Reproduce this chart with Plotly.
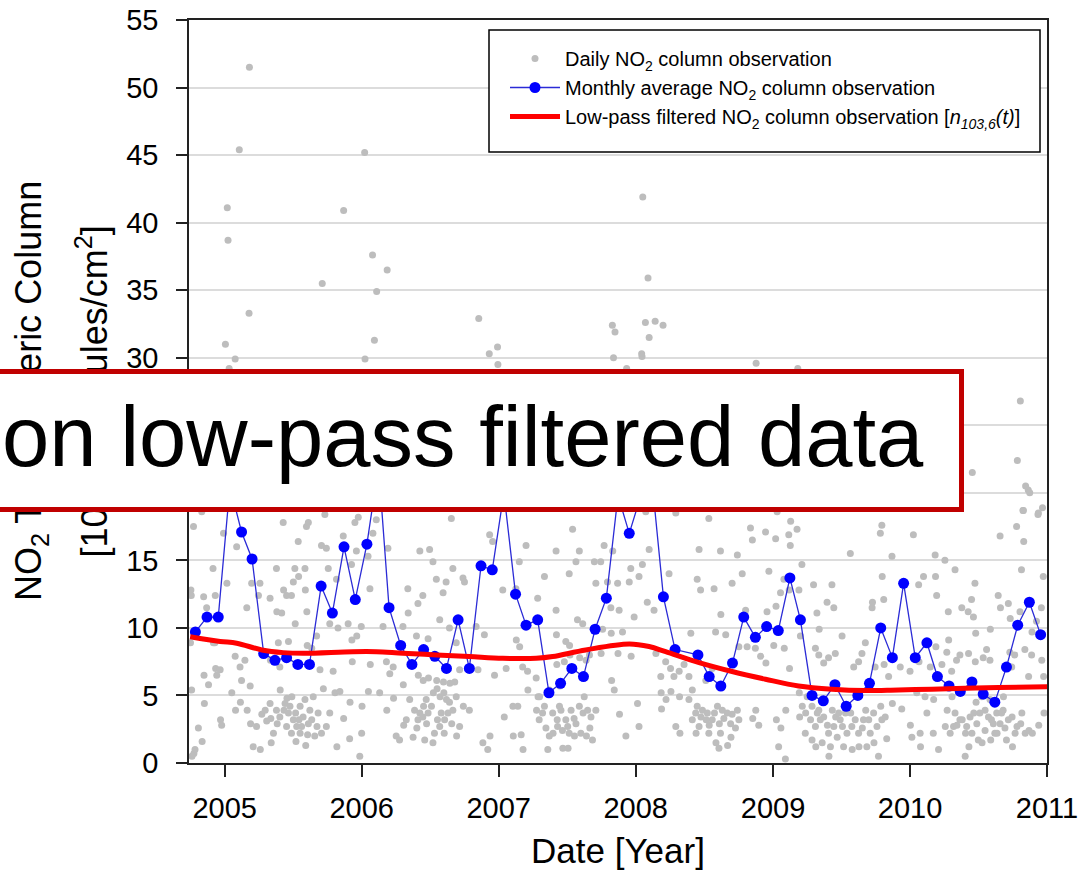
import pandas as pd
import plotly.graph_objects as go

BASE = pd.Timestamp("2004-10-01")

# ---- Daily NO2 column observations: (days since 2004-10-01, value [1e15 molecules/cm2]) ----
daily_high = [
    (158, 51.5), (131, 45.4), (465, 45.2), (99, 41.1), (101, 38.7), (409, 40.9), (486, 37.6),
    (525, 36.5), (352, 35.5), (497, 34.9), (157, 33.3), (769, 32.9), (94, 31.0), (120, 29.9),
    (491, 31.3), (466, 29.9), (797, 30.3), (819, 30.8), (820, 29.5), (104, 29.2), (1206, 41.9),
    (1220, 35.9), (1125, 32.4), (1132, 31.9), (1213, 32.6), (1239, 32.7), (1260, 32.4),
    (1223, 31.5), (1128, 30.0), (1203, 30.3), (1204, 30.1), (1163, 29.2), (1508, 29.6),
    (1619, 29.2), (2212, 26.8), (2204, 22.4), (2084, 21.5), (2226, 20.5), (2237, 20.0),
    (2219, 18.7), (2259, 18.4), (2271, 18.9), (2202, 17.5),
]

daily_2004_2007 = [
    (31, 18.6), (9, 17.5), (89, 17.0), (124, 16.0), (248, 17.8), (310, 17.5), (315, 17.8),
    (359, 18.4), (439, 17.8), (448, 18.2), (496, 18.0), (487, 17.0), (527, 15.9), (696, 18.1),
    (1019, 17.3), (975, 15.7), (1037, 15.7), (895, 16.1), (798, 16.9), (806, 16.4), (288, 16.4),
    (350, 16.1), (363, 15.9), (408, 16.8), (443, 15.7), (474, 15.3),
    (2, 12.8), (98, 13.3), (67, 12.4), (164, 13.3), (186, 13.3), (230, 14.4), (279, 14.4),
    (306, 14.4), (289, 13.8), (275, 13.4), (213, 12.2), (249, 12.8), (257, 12.4), (270, 12.4),
    (307, 12.8), (368, 14.4), (390, 13.6), (430, 14.7), (479, 12.9), (580, 12.9), (612, 15.7),
    (638, 15.8), (647, 14.9), (656, 13.6), (682, 13.4), (700, 14.4), (727, 13.7), (731, 13.4),
    (620, 12.4), (607, 11.8), (674, 12.6), (833, 12.8), (877, 14.9), (944, 13.8), (1010, 14.0),
    (1028, 14.9), (1077, 14.9), (1081, 13.3), (975, 11.3), (926, 12.2), (868, 12.9),
    (3, 12.4), (36, 12.3), (44, 11.5), (151, 11.5), (182, 12.4), (231, 11.2), (244, 11.1),
    (280, 10.3), (311, 11.2), (337, 9.4), (372, 10.3), (394, 10.0), (421, 10.3), (444, 9.4),
    (456, 10.1), (514, 10.1), (567, 10.1), (581, 11.1), (603, 9.4), (634, 9.2), (665, 10.6),
    (691, 10.0), (709, 8.9), (762, 10.1), (784, 9.5), (869, 9.1), (878, 8.6), (976, 9.5),
    (1001, 9.0), (1011, 8.7), (1032, 10.6), (1046, 10.3),
    (62, 8.9), (120, 7.9), (146, 7.6), (133, 7.1), (68, 7.0), (80, 6.9), (71, 6.5), (37, 6.5),
    (49, 5.8), (160, 5.7), (214, 7.6), (239, 7.1), (235, 8.9), (262, 9.0), (312, 8.7),
    (324, 8.5), (346, 6.9), (381, 6.8), (431, 9.1), (432, 7.5), (480, 7.3), (523, 7.5),
    (541, 7.1), (532, 6.6), (568, 5.8), (608, 6.5), (621, 6.1), (635, 6.3), (657, 6.1),
    (675, 6.0), (692, 5.9), (705, 6.0), (718, 6.9), (767, 6.9), (811, 6.5), (842, 7.0),
    (886, 7.1), (899, 6.8), (922, 6.3), (977, 7.3), (997, 7.5), (1012, 8.0), (1038, 7.8),
    (1055, 7.6), (1064, 8.0),
    (4, 5.4), (38, 4.4), (111, 5.2), (137, 6.1), (152, 3.9), (134, 4.5), (81, 3.2), (84, 2.8),
    (22, 2.6), (32, 1.6), (10, 0.7), (121, 3.9), (161, 2.9), (177, 2.7), (191, 3.6), (204, 3.1),
    (215, 3.3), (222, 2.2), (232, 2.9), (187, 1.0), (168, 1.2), (216, 1.5), (240, 5.4),
    (258, 4.8), (271, 4.9), (250, 3.9), (266, 4.2), (281, 3.7), (290, 3.2), (297, 2.7),
    (313, 2.1), (282, 1.6), (293, 2.2), (308, 1.3), (332, 2.0), (338, 2.7), (328, 4.9),
    (355, 5.5), (386, 5.2), (399, 5.3), (391, 1.2), (425, 1.8), (457, 2.2), (458, 4.2),
    (409, 3.3), (426, 4.5), (452, 0.5), (475, 5.3), (505, 5.2), (524, 3.9), (542, 4.8),
    (549, 2.0), (558, 1.7), (569, 2.8), (576, 3.2), (604, 2.6), (612, 3.7), (622, 4.2),
    (629, 4.7), (648, 5.2), (658, 5.5), (666, 4.9), (676, 5.2), (683, 4.7), (630, 2.9),
    (659, 3.2), (677, 2.2), (697, 2.9), (710, 2.0), (728, 4.2), (744, 3.9), (780, 1.5),
    (793, 1.0), (799, 2.0), (837, 3.4), (860, 4.2), (873, 4.2), (861, 2.0), (882, 2.1),
    (887, 1.0), (900, 5.4), (923, 3.9), (927, 4.9), (939, 3.7), (948, 2.6), (957, 2.0),
    (978, 3.2), (988, 3.9), (992, 2.4), (1006, 2.7), (1023, 3.3), (1047, 3.7), (1050, 4.9),
    (1059, 3.9), (1065, 2.6), (1072, 1.7), (993, 1.1), (1007, 1.1), (953, 1.0), (1024, 2.0),
    (1056, 2.0), (5, 0.5), (13, 1.0), (1, 8.9), (66, 8.9), (61, 14.4),
]

# dense summer-minimum clusters
daily_summer_lows = [
    (253, 4.4), (262, 3.7), (275, 3.2), (284, 2.7), (301, 3.4), (315, 2.9), (319, 3.9),
    (270, 2.2), (257, 2.7), (239, 3.4), (230, 3.9), (213, 4.4), (200, 3.9), (293, 4.2),
    (306, 4.7), (324, 3.2), (341, 3.7), (350, 2.2), (363, 2.7), (372, 3.7),
    (585, 4.7), (598, 3.9), (607, 3.2), (620, 3.4), (634, 3.7), (643, 4.2), (651, 2.2),
    (665, 2.7), (678, 3.2), (687, 3.7), (700, 3.9), (594, 1.9), (625, 1.7), (647, 1.5),
    (669, 3.7), (691, 4.5), (709, 4.9), (718, 2.7),
    (930, 3.2), (944, 4.2), (966, 3.7), (979, 2.7), (984, 4.2), (1001, 3.2), (1015, 3.9),
    (1028, 2.9), (1037, 4.2), (1041, 2.2), (1010, 2.2), (967, 2.2), (1068, 3.4), (1081, 3.9),
    (931, 4.9), (957, 5.4), (985, 5.7),
    (1351, 4.2), (1365, 3.9), (1378, 3.7), (1391, 3.2), (1410, 2.9), (1422, 3.3), (1444, 3.6),
    (1458, 3.9), (1356, 2.7), (1382, 2.2), (1413, 2.2), (1441, 1.9), (1462, 3.2), (1338, 3.2),
    (1329, 4.7),
    (1640, 3.7), (1653, 3.2), (1666, 2.7), (1675, 3.9), (1688, 3.4), (1701, 2.2), (1715, 2.7),
    (1724, 1.9), (1732, 3.2), (1746, 3.7), (1763, 2.7), (1781, 2.2), (1794, 3.2), (1812, 2.2),
    (1830, 2.7), (1843, 3.2), (1657, 1.7), (1684, 1.5), (1764, 1.0),
    (2038, 3.7), (2051, 3.2), (2066, 2.2), (2078, 3.4), (2096, 2.9), (2104, 3.7), (2118, 2.4),
    (2135, 3.2), (2144, 2.2), (2158, 2.9), (2166, 3.9), (2180, 3.2), (2203, 2.7), (2216, 3.7),
    (2225, 2.2), (2100, 1.7), (2175, 1.7), (2131, 4.7), (2167, 4.9),
]

daily_2007_2010 = [
    (2233, 20.2), (2220, 18.7), (2260, 18.5), (2221, 16.4), (2158, 16.8), (1493, 17.4),
    (1533, 17.1), (1560, 16.6), (1595, 16.9), (1617, 17.3), (1498, 16.5), (1599, 16.1),
    (1564, 18.6), (1600, 17.9), (1382, 18.1), (1294, 18.5), (1214, 18.6), (1223, 15.8),
    (1843, 17.6), (1839, 17.0), (1927, 16.9), (1870, 15.3), (1759, 15.5), (1356, 15.8),
    (1413, 15.7), (1458, 15.4), (1985, 15.4), (2011, 15.0), (2038, 14.3), (2215, 14.3),
    (2273, 13.8), (1103, 16.1), (1126, 15.7), (1094, 14.9),
    (1174, 14.4), (1205, 14.7), (1196, 13.8), (1170, 13.4), (1139, 13.3), (1112, 13.4),
    (1276, 14.0), (1351, 13.6), (1360, 12.8), (1396, 12.9), (1444, 13.3), (1471, 14.0),
    (1542, 14.2), (1582, 13.6), (1622, 12.8), (1661, 13.2), (1710, 13.2), (1630, 14.7),
    (1697, 11.9), (1715, 11.5), (1848, 12.1), (1844, 13.8), (1817, 11.5), (1818, 11.9),
    (1941, 13.2), (1954, 13.8), (1986, 13.8), (1989, 12.4), (2020, 11.2), (2056, 11.5),
    (2073, 11.2), (2087, 10.8), (2082, 12.1), (2153, 12.4), (2180, 11.8), (2211, 11.2),
    (2268, 11.5), (2091, 13.3), (1143, 11.3), (1183, 10.8), (1236, 11.3), (1218, 11.9),
    (1121, 11.5), (1414, 11.0), (1537, 11.2), (1480, 11.3), (1561, 11.6), (1670, 11.1),
    (1573, 12.6), (1596, 12.8), (1334, 9.6),
    (1099, 9.9), (1122, 9.6), (1152, 9.7), (1095, 8.1), (1140, 8.1), (1175, 7.9), (1241, 8.1),
    (1267, 7.5), (1280, 7.0), (1303, 6.8), (1316, 7.3), (1329, 6.4), (1289, 6.4), (1254, 6.4),
    (1338, 5.4), (1374, 6.1), (1391, 7.0), (1462, 8.6), (1484, 8.6), (1506, 8.5), (1520, 7.9),
    (1534, 7.4), (1555, 8.7), (1583, 8.5), (1626, 9.4), (1597, 7.0), (1666, 8.5), (1675, 8.0),
    (1701, 7.8), (1688, 7.4), (1719, 8.1), (1768, 7.1), (1781, 7.5), (1790, 8.1), (1799, 8.9),
    (1825, 7.1), (1849, 7.3), (1861, 6.4), (1892, 7.1), (1918, 6.8), (1942, 7.5), (1972, 7.1),
    (1987, 8.6), (2021, 9.1), (2016, 8.2), (2042, 7.6), (2051, 8.0), (2074, 8.1), (2092, 7.5),
    (2113, 7.8), (2131, 7.6), (2122, 8.4), (2184, 8.2), (2197, 8.0), (2224, 8.4), (2242, 8.0),
    (2269, 7.6), (2274, 6.4), (2234, 6.4), (2189, 7.1), (2255, 10.5), (2243, 9.7), (2185, 10.7),
    (2159, 11.5), (2132, 9.9), (2093, 9.6), (2003, 7.3), (2029, 6.8), (1737, 9.4), (1400, 9.7),
    (1427, 9.5), (1676, 9.9),
    (1123, 6.1), (1130, 5.4), (1192, 4.4), (1255, 5.2), (1268, 4.7), (1256, 4.0), (1281, 5.3),
    (1304, 4.9), (1294, 2.7), (1305, 2.2), (1196, 2.7), (1144, 3.6), (1161, 2.0), (1347, 3.7),
    (1361, 3.4), (1375, 3.2), (1383, 2.8), (1397, 3.7), (1405, 4.2), (1418, 3.9), (1431, 3.7),
    (1440, 2.9), (1453, 2.6), (1401, 1.5), (1409, 1.1), (1432, 1.3), (1348, 2.2), (1499, 3.3),
    (1507, 3.9), (1515, 2.8), (1574, 2.6), (1568, 1.2), (1586, 0.3), (1562, 3.2), (1587, 3.9),
    (1623, 5.2), (1624, 3.4), (1631, 4.2), (1644, 4.9), (1657, 4.2), (1671, 3.7), (1679, 3.2),
    (1698, 2.8), (1711, 3.9), (1720, 3.4), (1728, 3.7), (1738, 2.7), (1750, 2.2), (1760, 3.7),
    (1772, 3.2), (1791, 2.6), (1800, 3.9), (1808, 3.2), (1821, 3.7), (1840, 4.2), (1852, 3.4),
    (1856, 1.8), (1834, 0.5), (1803, 1.2), (1822, 1.5), (1782, 1.2), (1741, 1.2), (1706, 1.2),
    (1702, 0.5), (1667, 1.2), (1639, 2.2), (1871, 4.4), (1896, 4.0), (1919, 2.8), (1923, 1.9),
    (1945, 2.2), (1946, 1.2), (1963, 3.7), (1980, 2.2), (1994, 1.0), (2012, 2.7), (2025, 2.2),
    (2034, 2.7), (2043, 2.8), (2057, 3.2), (2069, 2.7), (2083, 2.2), (2088, 3.7), (2094, 4.5),
    (2109, 4.9), (2118, 3.9), (2127, 3.4), (2140, 2.9), (2149, 3.7), (2162, 3.7), (2171, 2.6),
    (2190, 3.4), (2198, 2.2), (2213, 2.9), (2191, 1.2), (2235, 2.4), (2244, 2.2), (2261, 2.8),
    (2275, 3.7), (2075, 1.2), (2065, 0.5), (2110, 1.5), (2133, 1.7), (2150, 2.2), (2017, 3.9),
    (2030, 4.9), (2047, 5.4), (1981, 4.7), (1936, 5.2), (1958, 4.9),
]

# ---- Monthly averages, Oct 2004 .. Dec 2010 (None = no monthly value) ----
monthly_2004 = [9.7, 10.8, 10.8]
monthly_2005 = [20.5, 17.1, 15.1, 8.1, 7.6, 7.8, 7.3, 7.3, 13.1, 11.1, 16.0, 12.1]
monthly_2006 = [16.2, 22.0, 11.5, 8.7, 7.3, 8.4, 7.9, 7.0, 10.6, 7.0, 14.6, 14.3]
monthly_2007 = [20.0, 12.5, 10.2, 10.6, 5.2, 5.9, 7.0, 6.4, 9.9, 12.2, 19.8, 17.0]
monthly_2008 = [19.8, 20.5, 12.3, 8.4, None, 8.0, 6.4, 5.7, 7.4, 10.8, 9.3, 10.1]
monthly_2009 = [9.8, 13.7, 10.6, 5.0, 4.6, 5.8, 4.2, 5.0, 5.9, 10.0, 7.8, 13.3]
monthly_2010 = [7.8, 8.9, 6.4, 5.7, 5.3, 6.0, 5.1, 4.5, 7.1, 10.2, 11.9, 9.5]

# ---- Low-pass filtered series n_103,6(t): (days since 2004-10-01, value) ----
filtered_day = [0, 80, 124, 191, 248, 301, 434, 496, 567, 656, 744, 833, 922, 966, 1054,
                1170, 1223, 1267, 1356, 1444, 1533, 1621, 1710, 1799, 1887, 1976, 2064,
                2153, 2284]
filtered_no2 = [9.35, 9.0, 8.87, 8.37, 8.17, 8.12, 8.24, 8.24, 8.12, 8.0, 7.88, 7.75, 7.75,
                7.88, 8.37, 8.81, 8.62, 8.24, 7.43, 6.77, 6.2, 5.7, 5.46, 5.36, 5.41, 5.46,
                5.53, 5.58, 5.65]

year_labels = ["2005", "2006", "2007", "2008", "2009", "2010", "2011"]
y_ticks = [0, 5, 10, 15, 20, 25, 30, 35, 40, 45, 50, 55]
# 20 and 25 sit behind the call-out box in the reference
y_ticktext = ["0", "5", "10", "15", "", "", "30", "35", "40", "45", "50", "55"]

# ---------------- build ----------------
daily_all = daily_2004_2007 + daily_summer_lows + daily_2007_2010 + daily_high
daily_x = BASE + pd.to_timedelta([d for d, _ in daily_all], unit="D")
daily_y = [v for _, v in daily_all]

monthly_vals = monthly_2004 + monthly_2005 + monthly_2006 + monthly_2007 + monthly_2008 + monthly_2009 + monthly_2010
monthly_x = pd.date_range("2004-10-01", periods=len(monthly_vals), freq="MS") + pd.Timedelta(days=14)

filt_x = BASE + pd.to_timedelta(filtered_day, unit="D")

FONT = "Liberation Sans, Arial, Helvetica, sans-serif"

# plot-area pixel geometry used for placing decorations
W, H = 1083, 884
L, R, T, B = 189, 36, 20, 121
PW, PH = W - L - R, H - T - B


def px(x):
    return (x - L) / PW


def py(y):
    return (H - B - y) / PH


fig = go.Figure()
fig.add_trace(go.Scatter(
    x=daily_x, y=daily_y, mode="markers", legendgroup="a",
    name="Daily NO<sub>2</sub> column observation",
    marker=dict(color="#BDBDBD", size=7, line=dict(width=0)),
))
fig.add_trace(go.Scatter(
    x=monthly_x, y=monthly_vals, mode="lines+markers", connectgaps=True, legendgroup="b",
    name="Monthly average NO<sub>2</sub> column observation",
    line=dict(color="#2B2BD6", width=1.3),
    marker=dict(color="#0000FF", size=11, line=dict(width=0)),
))
fig.add_trace(go.Scatter(
    x=filt_x, y=filtered_no2, mode="lines", legendgroup="c",
    name="Low-pass filtered NO<sub>2</sub> column observation [<i>n</i><sub><i>103,6</i></sub><i>(t)</i>]",
    line=dict(color="#FF0000", width=5, shape="spline", smoothing=1.0),
))

fig.update_layout(
    width=W, height=H,
    margin=dict(l=L, r=R, t=T, b=B, pad=0, autoexpand=False),
    paper_bgcolor="white", plot_bgcolor="white",
    font=dict(family=FONT, color="black"),
    showlegend=True,
    legend=dict(
        x=px(505), y=py(39), xanchor="left", yanchor="top",
        bgcolor="rgba(0,0,0,0)", borderwidth=0,
        font=dict(size=20, family=FONT, color="black"),
        itemwidth=50, tracegroupgap=2, traceorder="normal",
    ),
)

fig.update_xaxes(
    type="date", range=["2004-09-28", "2011-01-01"], automargin=False,
    tickvals=[f"{y}-01-01" for y in year_labels], ticktext=year_labels,
    ticks="outside", ticklen=12, tickwidth=1.5, tickcolor="#222",
    showline=True, linecolor="#222", linewidth=1.5, mirror=True,
    showgrid=False, zeroline=False,
    tickfont=dict(size=29, family=FONT), ticklabelstandoff=6,
    title=dict(text="Date [Year]", font=dict(size=35, family=FONT), standoff=16),
)
fig.update_yaxes(
    range=[0, 55], tickvals=y_ticks, ticktext=y_ticktext, automargin=False,
    ticks="outside", ticklen=11, tickwidth=1.5, tickcolor="#222",
    showline=True, linecolor="#222", linewidth=1.5, mirror=True,
    showgrid=True, gridcolor="#DCDCDC", gridwidth=1.5, zeroline=False,
    tickfont=dict(size=29, family=FONT), ticklabelstandoff=12,
)

# legend frame (white, covers points)
fig.add_shape(type="rect", xref="paper", yref="paper", layer="above",
              x0=px(489), x1=px(1040), y0=py(152), y1=py(30),
              line=dict(color="black", width=1.5), fillcolor="white")

# y-axis title (two lines) as annotations so the overlay can cover them
fig.add_annotation(xref="paper", yref="paper", x=px(30.5), y=0.5, showarrow=False,
                   textangle=-90, xanchor="center", yanchor="middle",
                   text="NO<sub>2</sub> Tropospheric Column",
                   font=dict(size=36, family=FONT, color="black"))
fig.add_annotation(xref="paper", yref="paper", x=px(91), y=0.5, showarrow=False,
                   textangle=-90, xanchor="center", yanchor="middle",
                   text="[10<sup>15</sup> molecules/cm<sup>2</sup>]",
                   font=dict(size=36, family=FONT, color="black"))

# overlay call-out box
fig.add_annotation(xref="paper", yref="paper", x=px(964), y=py(440.5), showarrow=False,
                   xanchor="right", yanchor="middle", text=" ",
                   width=1040, height=133, borderpad=0, borderwidth=5,
                   bordercolor="#C00000", bgcolor="white",
                   font=dict(size=20, family=FONT))
fig.add_annotation(xref="paper", yref="paper", x=px(2), y=py(436), showarrow=False,
                   xanchor="left", yanchor="middle", text="on low-pass filtered data",
                   borderpad=0, borderwidth=0,
                   font=dict(size=85, family=FONT, color="black"))

fig.write_html("out.html", config={"displayModeBar": False},
               post_script="document.body.style.margin='0px';")
